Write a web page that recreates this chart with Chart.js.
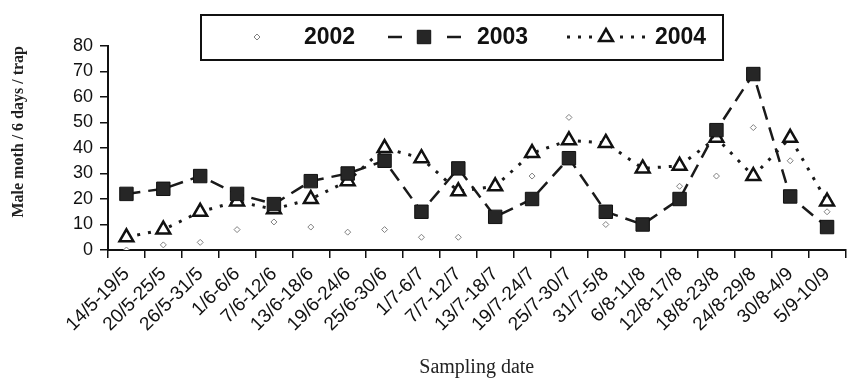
<!DOCTYPE html>
<html>
<head>
<meta charset="utf-8">
<script src="https://cdn.jsdelivr.net/npm/chart.js@4.4.1/dist/chart.umd.min.js"></script>
<style>
  html, body { margin: 0; padding: 0; background: #fff; }
</style>
</head>
<body>
<canvas id="mothChart" width="856" height="381"></canvas>
<script>
// sampling periods (6-day intervals)
const dates = ['14/5-19/5', '20/5-25/5', '26/5-31/5', '1/6-6/6', '7/6-12/6', '13/6-18/6',
  '19/6-24/6', '25/6-30/6', '1/7-6/7', '7/7-12/7', '13/7-18/7', '19/7-24/7', '25/7-30/7',
  '31/7-5/8', '6/8-11/8', '12/8-17/8', '18/8-23/8', '24/8-29/8', '30/8-4/9', '5/9-10/9'];

// male moth / 6 days / trap
const catch2002 = [0, 2, 3, 8, 11, 9, 7, 8, 5, 5, 12, 29, 52, 10, 10, 25, 29, 48, 35, 15];
const catch2003 = [22, 24, 29, 22, 18, 27, 30, 35, 15, 32, 13, 20, 36, 15, 10, 20, 47, 69, 21, 9];
const catch2004 = [5, 8, 15, 19, 16, 20, 27, 40, 36, 23, 25, 38, 43, 42, 32, 33, 44, 29, 44, 19];

const yMin = 0, yMax = 80, yStep = 10;

// boxed legend at top, drawn by hand so it looks like the printed one
const boxedLegend = {
  id: 'boxedLegend',
  afterDraw(chart) {
    const ctx = chart.ctx;
    const ds = chart.data.datasets;
    const cy = 37;
    ctx.save();
    ctx.setLineDash([]);
    ctx.lineWidth = 2;
    ctx.strokeStyle = '#111';
    ctx.strokeRect(201, 15, 522, 45);

    const items = [
      { d: ds[0], segs: [], mark: 257, text: 304 },
      { d: ds[1], segs: [[388, 405], [447, 465]], mark: 424, text: 477 },
      { d: ds[2], segs: [[567, 592], [620, 652]], mark: 606, text: 655 }
    ];
    items.forEach(it => {
      const d = it.d;
      it.segs.forEach(s => {
        ctx.beginPath();
        ctx.setLineDash(d.borderDash || []);
        ctx.lineWidth = d.borderWidth;
        ctx.strokeStyle = d.borderColor;
        ctx.moveTo(s[0], cy);
        ctx.lineTo(s[1], cy);
        ctx.stroke();
      });
      ctx.setLineDash([]);
      ctx.fillStyle = d.pointBackgroundColor;
      ctx.strokeStyle = d.pointBorderColor;
      ctx.lineWidth = d.pointBorderWidth;
      Chart.helpers.drawPoint(ctx, {
        pointStyle: d.pointStyle, radius: d.pointRadius,
        borderWidth: d.pointBorderWidth, rotation: 0
      }, it.mark, cy);
      ctx.fillStyle = '#111';
      ctx.font = 'bold 23px "Liberation Sans", Arial, sans-serif';
      ctx.textAlign = 'left';
      ctx.textBaseline = 'middle';
      ctx.fillText(d.label, it.text, cy + 1);
    });
    ctx.restore();
  }
};

new Chart(document.getElementById('mothChart'), {
  type: 'line',
  data: {
    labels: dates,
    datasets: [{
      label: '2002', data: catch2002, showLine: false, order: 2,
      borderColor: '#999', borderWidth: 1,
      pointStyle: 'rectRot', pointRadius: 3, pointBorderWidth: 1,
      pointBackgroundColor: '#fff', pointBorderColor: '#808080'
    }, {
      label: '2003', data: catch2003, order: 0,
      borderColor: '#1a1a1a', borderWidth: 2.5, borderDash: [14, 8],
      pointStyle: 'rect', pointRadius: 9.5, pointBorderWidth: 1,
      pointBackgroundColor: '#262626', pointBorderColor: '#111'
    }, {
      label: '2004', data: catch2004, order: 1,
      borderColor: '#1a1a1a', borderWidth: 3, borderDash: [3, 8],
      pointStyle: 'triangle', pointRadius: 8, pointBorderWidth: 2.5,
      pointBackgroundColor: '#fff', pointBorderColor: '#111'
    }]
  },
  options: {
    responsive: false,
    animation: false,
    devicePixelRatio: 1,
    layout: { padding: { top: 46, right: 0, bottom: 0, left: 0 } },
    plugins: { legend: { display: false }, tooltip: { enabled: false } },
    elements: { line: { tension: 0, fill: false } },
    scales: {
      x: {
        offset: true,
        grid: { offset: true, drawOnChartArea: false, tickLength: 8, color: '#111', lineWidth: 1.5 },
        border: { display: true, color: '#111', width: 2 },
        ticks: {
          autoSkip: false, minRotation: 45, maxRotation: 45, padding: 5,
          color: '#111', font: { family: '"Liberation Sans", Arial, sans-serif', size: 19 }
        },
        title: {
          display: true, text: 'Sampling date', color: '#222',
          font: { family: '"Liberation Serif", "Times New Roman", serif', size: 20 },
          padding: { top: 0, bottom: 1 }
        },
        afterFit(scale) { scale.height = 131; }
      },
      y: {
        min: yMin, max: yMax,
        grid: { drawOnChartArea: false, tickLength: 8, color: '#111', lineWidth: 1.5 },
        border: { display: true, color: '#111', width: 2 },
        ticks: {
          stepSize: yStep, padding: 7, color: '#111',
          font: { family: '"Liberation Sans", Arial, sans-serif', size: 18 }
        },
        title: {
          display: true, text: 'Male moth / 6 days / trap', align: 'end', color: '#222',
          font: { family: '"Liberation Serif", "Times New Roman", serif', size: 16, weight: 'bold' },
          padding: { top: 9, bottom: 0 }
        },
        afterFit(scale) { scale.width = 108; }
      }
    }
  },
  plugins: [boxedLegend]
});
</script>
</body>
</html>
